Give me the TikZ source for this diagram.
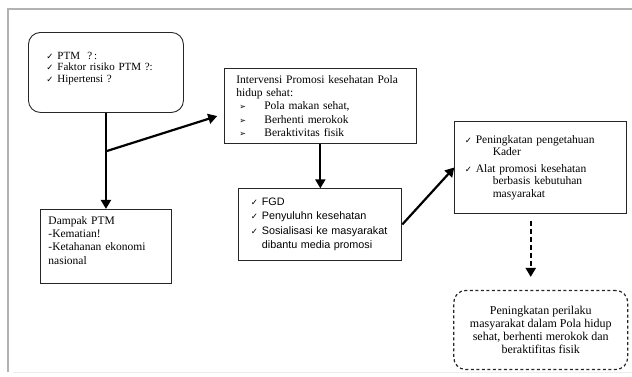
\documentclass[tikz,border=0pt]{standalone}
\usepackage{fontspec}
\setmainfont{Liberation Serif}
\newfontfamily\arialfont{Liberation Sans}
\newfontfamily\dingfont{DejaVu Sans}
\usetikzlibrary{positioning, arrows.meta, calc}

\newcommand{\cek}{\makebox[11pt][l]{\dingfont\fontsize{8.5}{8.5}\selectfont ✓}}
\newcommand{\panah}{\hspace*{3pt}\makebox[25pt][l]{\dingfont\fontsize{8}{8}\selectfont ➢}}

\begin{document}
\begin{tikzpicture}[x=1pt, y=-1pt,
  kotak/.style={draw=black!85, line width=0.9pt},
  panahtebal/.style={-{Triangle[length=9pt, width=10pt]}, line width=2.2pt}]
\useasboundingbox (0,0) rectangle (632,376);
\draw[gray!60, line width=1.2pt] (8,372) -- (8,9) -- (640,9);
\draw[gray!15, line width=1pt] (13,372) -- (640,372);

\node[kotak, rounded corners=12pt, anchor=north west, inner xsep=18pt, inner ysep=16pt, text width=119pt, align=left, text height=11pt, text depth=37pt, font=\fontsize{11}{11.5}\selectfont] (ptm) at (28,32) {\cek PTM \ ?\,:\\ \cek Faktor risiko PTM ?:\\ \cek Hipertensi ?};
\node[kotak, below=96pt of ptm, inner xsep=8pt, inner ysep=6.5pt, text width=115pt, align=left, text height=8.5pt, text depth=52.4pt, font=\fontsize{11.5}{13.3}\selectfont] (dampak) {Dampak PTM\\ -Kematian!\\ -Ketahanan ekonomi\\ nasional};
\node[kotak, right=40pt of ptm, yshift=-33.5pt, inner xsep=12pt, inner ysep=7.5pt, text width=168pt, align=left, font=\fontsize{11.5}{13.2}\selectfont] (interv) {Intervensi Promosi kesehatan Pola\\ hidup sehat:\\ \panah Pola makan sehat,\\ \panah Berhenti merokok\\ \panah Beraktivitas fisik};
\node[kotak, below=44pt of interv, inner xsep=12pt, inner ysep=9pt, text width=139pt, align=left, font=\arialfont\fontsize{10.8}{14.5}\selectfont] (fgd) {\cek FGD\\ \cek Penyuluhn kesehatan\\ \cek Sosialisasi ke masyarakat\\ \hspace*{11pt}dibantu media promosi};
\node[kotak, right=52pt of fgd, yshift=57pt, minimum height=92pt, inner xsep=10pt, text width=152pt, align=left, font=\fontsize{11.5}{12.5}\selectfont] (kader) {\cek Peningkatan pengetahuan\\ \hspace*{28pt}Kader\\[4pt] \cek Alat promosi kesehatan\\ \hspace*{28pt}berbasis kebutuhan\\ \hspace*{28pt}masyarakat};
\node[kotak, dashed, dash pattern=on 3pt off 2.5pt, line width=1.2pt, rounded corners=12pt, below=76pt of kader, minimum width=174pt, minimum height=79pt, align=center, font=\fontsize{12}{13}\selectfont] (perilaku) {Peningkatan perilaku\\ masyarakat dalam Pola hidup\\ sehat, berhenti merokok dan\\ beraktifitas fisik};

\coordinate (cabang) at ($(ptm.south)!0.4!(dampak.north)$);
\draw[panahtebal] (ptm.south) -- (dampak.north);
\draw[panahtebal, shorten >=7pt] (cabang) -- ([yshift=-8pt]interv.west);
\draw[panahtebal] (interv.south -| fgd.north) -- (fgd.north);
\draw[panahtebal] (fgd.east) -- (kader.west);
\draw[panahtebal, dash pattern=on 5pt off 3pt] ([xshift=-10pt, yshift=-7pt]kader.south) -- ([xshift=-10pt, yshift=13pt]perilaku.north);
\end{tikzpicture}
\end{document}
